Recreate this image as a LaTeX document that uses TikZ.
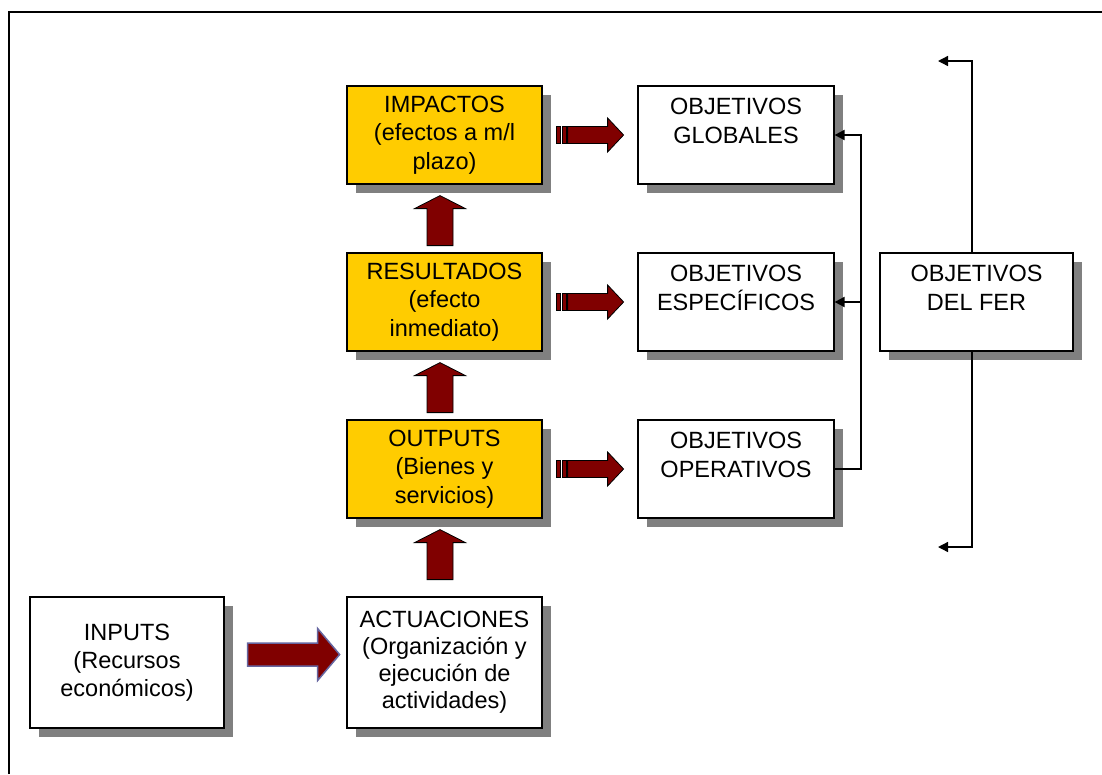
\documentclass[tikz,border=0pt]{standalone}
\usepackage{fontspec}
\setmainfont{Liberation Sans}
\usetikzlibrary{arrows.meta,shadows}
\definecolor{boxyellow}{HTML}{FFCC00}
\definecolor{shgray}{HTML}{808080}
\definecolor{arrred}{HTML}{800000}
\definecolor{arrblue}{HTML}{6666A0}
\begin{document}
\begin{tikzpicture}[x=1pt,y=-1pt,
  box/.style={draw=black, line width=1.2pt, fill=white, minimum width=195pt, minimum height=98pt,
    align=center, inner sep=0pt, font=\fontsize{23.5}{28.5}\selectfont,
    drop shadow={shadow xshift=9pt, shadow yshift=-9pt, fill=shgray, opacity=1}},
  ybox/.style={box, fill=boxyellow},
  tallbox/.style={box, minimum height=131pt, font=\fontsize{23.5}{27}\selectfont},
  conn/.style={draw=black, line width=2pt, -{Triangle[length=10pt,width=10pt]}},
  bracket/.style={draw=black, line width=1.4pt, -{Triangle[length=10pt,width=10pt]}},
  arrowfill/.style={fill=arrred, draw=black, line width=0.8pt},
  striparrow/.pic={
    \draw[arrowfill] (0,-8.5) rectangle (4,8.5);
    \draw[arrowfill] (5.5,-8.5) rectangle (9.5,8.5);
    \draw[arrowfill] (11,-8.5) -- (51,-8.5) -- (51,-17) -- (67,0) -- (51,17) -- (51,8.5) -- (11,8.5) -- cycle;
  },
  uparrow/.pic={
    \draw[arrowfill] (0,0) -- (25.5,13) -- (13,13) -- (13,50) -- (-13,50) -- (-13,13) -- (-25.5,13) -- cycle;
  },
  bigarrow/.pic={
    \draw[fill=arrred, draw=arrblue, line width=1.5pt]
      (0,-11.5) -- (70,-11.5) -- (70,-26) -- (92,0) -- (70,26) -- (70,11.5) -- (0,11.5) -- cycle;
  }
]
\useasboundingbox (0,0) rectangle (1102,774);
\fill[white] (0,0) rectangle (1102,774);
% frame
\draw[line width=2pt] (9,774) -- (9,12) -- (1102,12);

% boxes
\node[ybox] (imp) at (444.5,135) {IMPACTOS\\(efectos a m/l\\plazo)};
\node[ybox] (res) at (444.5,302) {RESULTADOS\\(efecto\\inmediato)};
\node[ybox] (out) at (444.5,469) {OUTPUTS\\(Bienes y\\servicios)};
\node[tallbox] (act) at (444.5,662.5) {ACTUACIONES\\(Organización y\\ejecución de\\actividades)};
\node[tallbox, minimum width=194pt, font=\fontsize{23.5}{28}\selectfont] (inp) at (127,662.5) {INPUTS\\(Recursos\\económicos)};
\node[box, minimum width=196pt] (glob) at (736,135) {OBJETIVOS\\GLOBALES\\\mbox{}};
\node[box, minimum width=196pt] (esp) at (736,302) {OBJETIVOS\\ESPECÍFICOS\\\mbox{}};
\node[box, minimum width=196pt] (ope) at (736,469) {OBJETIVOS\\OPERATIVOS\\\mbox{}};
\node[box, minimum width=193pt] (fer) at (976.5,302) {OBJETIVOS\\DEL FER\\\mbox{}};

% block arrows
\pic at ([xshift=14pt]imp.east) {striparrow};
\pic at ([xshift=14pt]res.east) {striparrow};
\pic at ([xshift=14pt]out.east) {striparrow};
\pic at ([xshift=-4.5pt,yshift=-11pt]imp.south) {uparrow};
\pic at ([xshift=-4.5pt,yshift=-11pt]res.south) {uparrow};
\pic at ([xshift=-4.5pt,yshift=-11pt]out.south) {uparrow};
\pic at ([xshift=23pt,yshift=8pt]inp.east) {bigarrow};

% bus connectors
\coordinate (bus) at (861,0);
\draw[conn] (ope.east) -- (ope.east -| bus) -- (glob.east -| bus) -- (glob.east);
\draw[conn] (esp.east -| bus) -- (esp.east);

% FER bracket
\coordinate (fertop) at (938,61);
\coordinate (ferbot) at (938,547);
\coordinate (ferx) at (972,0);
\draw[bracket] (fer.north -| ferx) |- (fertop);
\draw[bracket] (fer.south -| ferx) |- (ferbot);
\end{tikzpicture}
\end{document}
